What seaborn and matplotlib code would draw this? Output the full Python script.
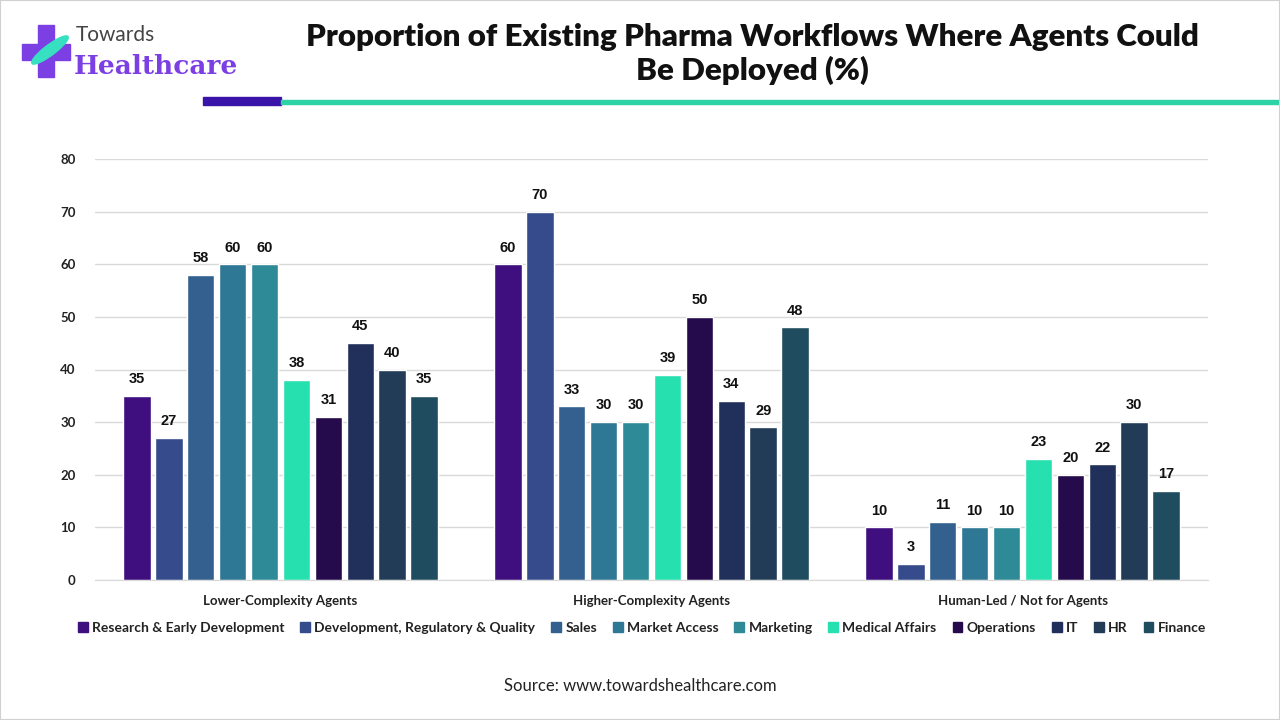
import pandas as pd
import matplotlib.pyplot as plt
import matplotlib.patches as mpatches
import seaborn as sns

categories = ["Lower-Complexity Agents", "Higher-Complexity Agents", "Human-Led / Not for Agents"]
functions = [
    "Research & Early Development",
    "Development, Regulatory & Quality",
    "Sales",
    "Market Access",
    "Marketing",
    "Medical Affairs",
    "Operations",
    "IT",
    "HR",
    "Finance",
]
lower_values = [35, 27, 58, 60, 60, 38, 31, 45, 40, 35]
higher_values = [60, 70, 33, 30, 30, 39, 50, 34, 29, 48]
human_values = [10, 3, 11, 10, 10, 23, 20, 22, 30, 17]
y_ticks = [0, 10, 20, 30, 40, 50, 60, 70, 80]

colors = ["#3F0F7F", "#354B8C", "#33608E", "#2F7895", "#2F8A98",
          "#27E0B0", "#250B4B", "#21305A", "#223C58", "#1F4C5E"]

rows = []
for cat, vals in zip(categories, [lower_values, higher_values, human_values]):
    for fn, v in zip(functions, vals):
        rows.append({"Category": cat, "Function": fn, "Value": v})
df = pd.DataFrame(rows)

sns.set_style("white")
plt.rcParams["font.family"] = ["Lato", "DejaVu Sans"]

fig = plt.figure(figsize=(12.8, 7.2), dpi=100)
ax = fig.add_axes([95 / 1280, 1 - 580 / 720, (1208 - 95) / 1280, (580 - 159) / 720])

sns.barplot(data=df, x="Category", y="Value", hue="Function", order=categories,
            hue_order=functions, palette=colors, width=0.86, gap=0.14,
            saturation=1, ax=ax, legend=False)

for cont in ax.containers:
    ax.bar_label(cont, padding=7, fontsize=10.5, fontweight="bold", color="#111111",
                 family=["Liberation Sans"])

ax.set_ylim(0, 80)
ax.set_yticks(y_ticks)
ax.set_xlim(-0.5, 2.5)
ax.yaxis.grid(True, color="#D9D9D9", linewidth=1)
ax.set_axisbelow(True)
for s in ["top", "right", "left"]:
    ax.spines[s].set_visible(False)
ax.spines["bottom"].set_color("#D9D9D9")
ax.tick_params(axis="both", length=0)
ax.tick_params(axis="y", labelsize=9.5, pad=14)
ax.tick_params(axis="x", labelsize=9.5, pad=11)
for lbl in ax.get_yticklabels() + ax.get_xticklabels():
    lbl.set_fontweight("bold")
    lbl.set_color("#222222")
ax.set_xlabel("")
ax.set_ylabel("")

# legend
handles = [mpatches.Patch(color=c, label=f) for c, f in zip(colors, functions)]
leg = fig.legend(handles=handles, loc="center", bbox_to_anchor=(642 / 1280, 1 - 628 / 720),
                 ncol=10, frameon=False, handlelength=0.7, handleheight=0.7,
                 handletextpad=0.3, columnspacing=1.15, prop={"size": 10, "weight": "bold"})
for t in leg.get_texts():
    t.set_color("#222222")

# title
fig.text(752 / 1280, 1 - 54 / 720,
         "Proportion of Existing Pharma Workflows Where Agents Could\nBe Deployed (%)",
         ha="center", va="center", fontsize=22.5, fontweight="heavy", color="#111111",
         linespacing=1.2)

# header lines
fig.patches.append(mpatches.Rectangle((203 / 1280, 1 - 105 / 720), 78 / 1280, 8 / 720,
                                      transform=fig.transFigure, color="#3A14A8"))
fig.patches.append(mpatches.Rectangle((281 / 1280, 1 - 104 / 720), 999 / 1280, 4 / 720,
                                      transform=fig.transFigure, color="#2ED3A5"))

# logo
fig.patches.append(mpatches.Rectangle((38 / 1280, 1 - 77 / 720), 16 / 1280, 52 / 720,
                                      transform=fig.transFigure, color="#7B3FE4"))
fig.patches.append(mpatches.Rectangle((22 / 1280, 1 - 60 / 720), 48 / 1280, 16 / 720,
                                      transform=fig.transFigure, color="#7B3FE4"))
fig.patches.append(mpatches.Ellipse((50 / 1280, 1 - 50 / 720), 14 / 1280, 34 / 720, angle=-35,
                                    transform=fig.transFigure, color="#36E0C0"))
fig.text(76 / 1280, 1 - 35 / 720, "Towards", fontsize=15, color="#444444", va="center")
fig.text(74 / 1280, 1 - 66 / 720, "Healthcare", fontsize=19, color="#7B3FE4",
         fontweight="bold", family=["DejaVu Serif"], va="center")

# source
fig.text(640 / 1280, 1 - 686 / 720, "Source: www.towardshealthcare.com",
         ha="center", va="center", fontsize=12, color="#222222")

# border
fig.patches.append(mpatches.Rectangle((0, 0), 1, 1, transform=fig.transFigure,
                                      fill=False, edgecolor="#D0D0D0", linewidth=1.5))

fig.savefig("out.png", dpi=100)
